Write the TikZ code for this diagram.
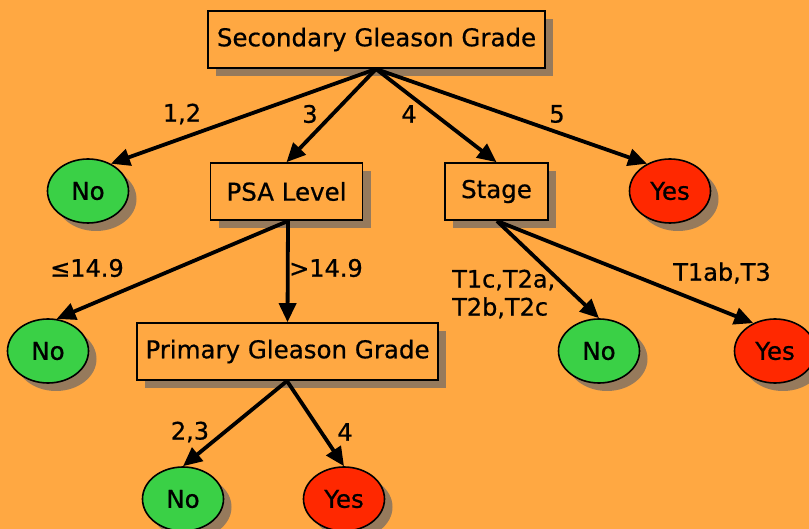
\documentclass[tikz,border=0pt]{standalone}
\usepackage{fontspec}
\setmainfont{DejaVu Sans}[BoldFont={DejaVu Sans},BoldFeatures={FakeBold=0.7}]
\usetikzlibrary{shapes.geometric,arrows.meta,shadows}
\definecolor{bgorange}{RGB}{255,168,66}
\definecolor{leafgreen}{RGB}{58,208,70}
\definecolor{leafred}{RGB}{255,40,0}
\definecolor{shade}{RGB}{150,122,92}
\tikzset{
  softshadow/.style={drop shadow={shadow xshift=8pt,shadow yshift=-8pt,fill=shade,opacity=1}},
  testbox/.style={draw=black,line width=1.6pt,fill=bgorange,rectangle,minimum height=57pt,
    inner xsep=8pt,softshadow,font=\fontsize{24.5}{28}\bfseries\selectfont},
  leaf/.style={draw=black,line width=1.6pt,ellipse,minimum width=81pt,minimum height=64pt,
    inner sep=0pt,softshadow,font=\fontsize{24.5}{28}\bfseries\selectfont},
  noleaf/.style={leaf,fill=leafgreen},
  yesleaf/.style={leaf,fill=leafred},
  branch/.style={line width=3.8pt,-{Triangle[length=19pt,width=17pt]}},
  lbl/.style={font=\fontsize{24}{28}\bfseries\selectfont,inner sep=0pt},
}
\begin{document}
\begin{tikzpicture}[x=1pt,y=-1pt]
  \fill[bgorange] (0,0) rectangle (809,529);
  \useasboundingbox (0,0) rectangle (809,529);

  % internal tests
  \node[testbox,minimum width=337pt] (root) at (376.5,39.5) {Secondary Gleason Grade};
  \node[testbox,minimum width=152pt] (psa) at (286.5,191.5) {PSA Level};
  \node[testbox,minimum width=103pt] (stage) at (496.5,191.5) {Stage};
  \node[testbox,minimum width=301pt] (primary) at (287.5,351.5) {Primary Gleason Grade};

  % leaves
  \node[noleaf] (no1) at (88,191) {No};
  \node[yesleaf] (yes1) at (670,191) {Yes};
  \node[noleaf] (no2) at (48,351) {No};
  \node[noleaf] (no3) at (599,351) {No};
  \node[yesleaf] (yes2) at (775,351) {Yes};
  \node[noleaf] (no4) at (183,499) {No};
  \node[yesleaf] (yes3) at (344,499) {Yes};

  % branches
  \coordinate (rootfoot) at (376,69);
  \coordinate (psafoot) at (288,221);
  \coordinate (stagefoot) at (497,221);
  \coordinate (primfoot) at (287,381);
  \draw[branch] (rootfoot) -- (no1.50);
  \draw[branch] (rootfoot) -- (psa.north);
  \draw[branch] (rootfoot) -- (stage.north);
  \draw[branch] (rootfoot) -- (yes1.130);
  \draw[branch] (psafoot) -- (no2.75);
  \draw[branch] (psafoot) -- (primary.north);
  \draw[branch] (stagefoot) -- (no3.north);
  \draw[branch] (stagefoot) -- (yes2.128);
  \draw[branch] (primfoot) -- (no4.north);
  \draw[branch] (primfoot) -- (yes3.north);

  % branch labels
  \node[lbl] (l12) at (182,114) {1,2};
  \node[lbl] (l3) at (310,114) {3};
  \node[lbl] (l4) at (409,114) {4};
  \node[lbl] (l5) at (557,114) {5};
  \node[lbl] (lle) at (87,268) {≤14.9};
  \node[lbl] (lgt) at (326,268) {>14.9};
  \node[lbl,align=left,anchor=west] (lt2) at (452,294) {T1c,T2a,\\T2b,T2c};
  \node[lbl] (lt3) at (722,273) {T1ab,T3};
  \node[lbl] (l23) at (190,432) {2,3};
  \node[lbl] (l4b) at (345,432) {4};
\end{tikzpicture}
\end{document}
